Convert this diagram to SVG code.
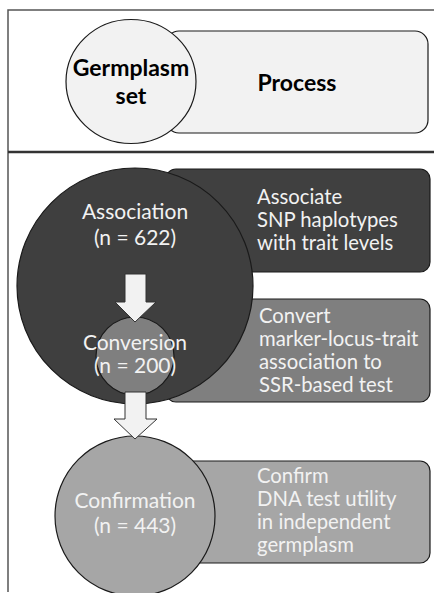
<svg xmlns="http://www.w3.org/2000/svg" width="434" height="593" viewBox="0 0 434 593">
<style>
text{font-family:Lato,"Open Sans","Liberation Sans",sans-serif;font-size:21px}
.c{text-anchor:middle}
.b{font-weight:bold;fill:#000;font-size:23px}
.w{fill:#f2f2f2}
.r{font-size:20.3px}
.box{stroke:#1a1a1a;stroke-width:1.2}
.frame{stroke:#555;stroke-width:1.5;fill:none}
.arrow{fill:#f2f2f2;stroke:#333;stroke-width:1}
</style>
<rect width="434" height="593" fill="#fff"/>
<g id="frame">
<path class="frame" d="M434 10 H8 V592"/>
<line x1="8" y1="152" x2="434" y2="152" stroke="#333" stroke-width="2.5"/>
</g>
<g id="process-header">
<rect class="box" x="166" y="31" width="262" height="102" rx="13" fill="#f2f2f2"/>
<text class="b c" x="297" y="91">Process</text>
</g>
<g id="germplasm-header">
<ellipse class="box" cx="131" cy="81.5" rx="65" ry="62" fill="#f2f2f2"/>
<text class="b c" x="131" y="76">Germplasm</text>
<text class="b c" x="131" y="104">set</text>
</g>
<g id="associate-box">
<rect class="box" x="166" y="169" width="264" height="103" rx="10" fill="#404040"/>
<text class="w r" x="257" y="204">Associate</text>
<text class="w r" x="257" y="227">SNP haplotypes</text>
<text class="w r" x="257" y="250">with trait levels</text>
</g>
<g id="convert-box">
<rect class="box" x="166" y="299" width="264" height="103" rx="10" fill="#7f7f7f"/>
<text class="w r" x="259" y="323">Convert</text>
<text class="w r" x="259" y="346">marker-locus-trait</text>
<text class="w r" x="259" y="369">association to</text>
<text class="w r" x="259" y="392">SSR-based test</text>
</g>
<g id="confirm-box">
<rect class="box" x="166" y="461" width="264" height="102" rx="10" fill="#a6a6a6"/>
<text class="w r" x="257" y="483">Confirm</text>
<text class="w r" x="257" y="506">DNA test utility</text>
<text class="w r" x="257" y="529">in independent</text>
<text class="w r" x="257" y="552">germplasm</text>
</g>
<g id="association">
<circle class="box" cx="135" cy="286" r="118" fill="#3f3f3f"/>
<text class="w c" x="135" y="219">Association</text>
<text class="w c" x="135" y="245">(n = 622)</text>
</g>
<g id="conversion">
<circle class="box" cx="135" cy="356" r="39" fill="#7f7f7f"/>
<text class="w c" x="135" y="350">Conversion</text>
<text class="w c" x="135" y="373">(n = 200)</text>
</g>
<g id="confirmation">
<circle class="box" cx="135" cy="516" r="80" fill="#a6a6a6"/>
<text class="w c" x="135" y="508">Confirmation</text>
<text class="w c" x="135" y="533">(n = 443)</text>
</g>
<g id="connectors">
<path class="arrow" d="M125 274 H146 V302 H156 L135 322 L115 302 H125 Z"/>
<path class="arrow" d="M125 392 H146 V419 H157 L135 439 L114 419 H125 Z"/>
</g>
</svg>
